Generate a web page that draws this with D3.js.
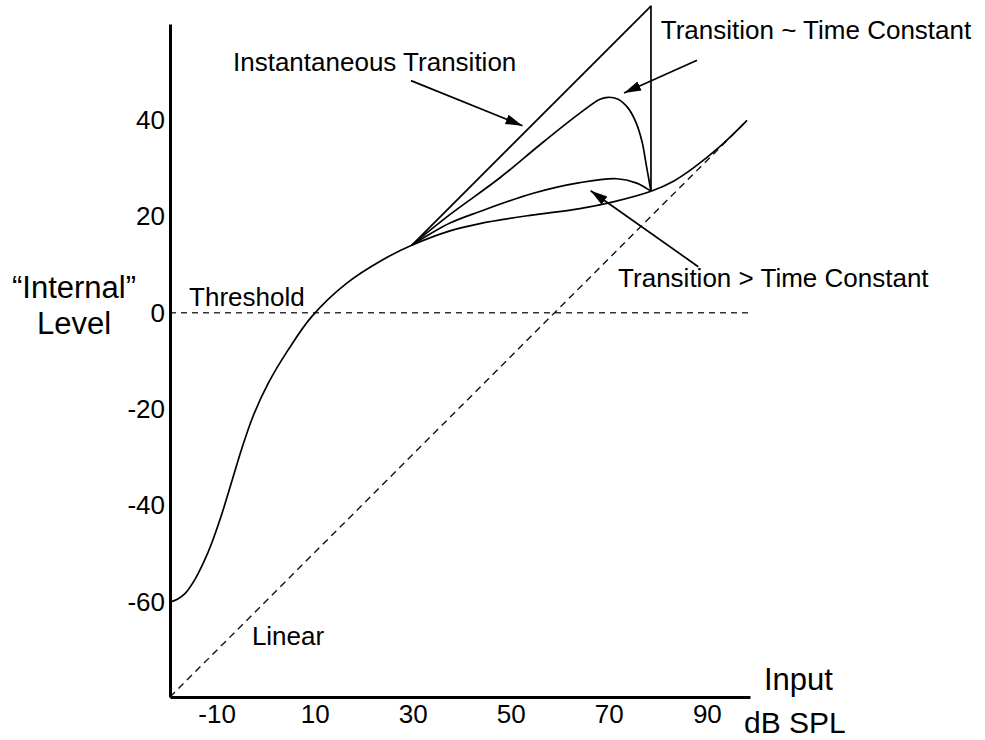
<!DOCTYPE html>
<html>
<head>
<meta charset="utf-8">
<script src="https://cdn.jsdelivr.net/npm/d3@7"></script>
<style>
  body { margin: 0; background: #fff; }
  svg { display: block; font-family: "Liberation Sans", Arial, Helvetica, sans-serif; }
</style>
</head>
<body>
<div id="chart"></div>
<script>
// Input level (dB SPL) vs "internal" level
const baseIn  = [-19.5, -18.0, -16.4, -14.4, -12.7, -11.0, -8.95, -6.9, -4.9, -2.5, 0.55, 4.6, 9.4, 16.5, 23.9, 29.8,
                 37.6, 43.7, 53.9, 64.1, 70.9, 78.6, 83.2, 87.2, 92.7, 98.2];
const baseOut = [-60, -59.4, -58.2, -55.3, -51.9, -47.8, -41.8, -35.0, -28.3, -21.3, -14.6, -7.7, -0.8, 6.1, 11.0, 14.0,
                 17.0, 18.5, 20.2, 21.6, 23.0, 25.2, 27.3, 30.0, 34.5, 39.9];

// Transition ~ time constant
const tcIn  = [29.8, 37.5, 47.8, 55.9, 64.1, 68.2, 69.9, 71.9, 73.9, 75.5, 76.8, 77.7, 78.6];
const tcOut = [14.0, 20.3, 28.0, 34.8, 41.4, 44.3, 44.7, 44.3, 42.5, 39.6, 35.4, 30.3, 25.2];

// Transition > time constant
const gtIn  = [29.8, 37.6, 43.7, 54.6, 64.1, 71.6, 75.7, 77.7, 78.6];
const gtOut = [14.0, 18.6, 21.0, 24.8, 27.0, 27.8, 26.9, 25.8, 25.2];

// Instantaneous transition
const instIn  = [29.8, 78.6, 78.6];
const instOut = [14.0, 63.6, 25.2];

// Linear reference and threshold
const linIn  = [-19.5, 98.2];
const linOut = [-79.7, 39.9];
const thrIn  = [-19.5, 98.8];
const thrOut = [0, 0];

const xTicks = [-10, 10, 30, 50, 70, 90];
const yTicks = [-60, -40, -20, 0, 20, 40];

const W = 985, H = 740;
const x = d3.scaleLinear().domain([-19.5, 98.8]).range([170, 750]);
const y = d3.scaleLinear().domain([-79.7, 59.9]).range([697, 24]);

const svg = d3.select('#chart').append('svg')
  .attr('width', W)
  .attr('height', H);

svg.append('defs').append('marker')
  .attr('id', 'arrow')
  .attr('markerUnits', 'userSpaceOnUse')
  .attr('viewBox', '0 -6 18 12')
  .attr('refX', 17)
  .attr('refY', 0)
  .attr('markerWidth', 18)
  .attr('markerHeight', 12)
  .attr('orient', 'auto')
  .append('path')
  .attr('d', 'M0,-5L17,0L0,5Z')
  .attr('fill', '#000');

const zip = (xs, ys) => xs.map((d, i) => [d, ys[i]]);
const smooth = d3.line().x(d => x(d[0])).y(d => y(d[1])).curve(d3.curveCatmullRom.alpha(0.5));
const straight = d3.line().x(d => x(d[0])).y(d => y(d[1]));

// dashed references
svg.append('path')
  .attr('d', straight(zip(thrIn, thrOut)))
  .attr('fill', 'none').attr('stroke', '#333').attr('stroke-width', 1.4)
  .attr('stroke-dasharray', '6,5');
svg.append('path')
  .attr('d', straight(zip(linIn, linOut)))
  .attr('fill', 'none').attr('stroke', '#111').attr('stroke-width', 1.4)
  .attr('stroke-dasharray', '7,5');

// curves
const curves = [
  { pts: zip(baseIn, baseOut), gen: smooth },
  { pts: zip(tcIn, tcOut), gen: smooth },
  { pts: zip(gtIn, gtOut), gen: smooth },
  { pts: zip(instIn, instOut), gen: straight }
];
svg.selectAll('.curve')
  .data(curves)
  .enter()
  .append('path')
  .attr('class', 'curve')
  .attr('d', d => d.gen(d.pts))
  .attr('fill', 'none')
  .attr('stroke', '#000')
  .attr('stroke-width', 1.7)
  .attr('stroke-linejoin', 'round');

// axes
const fmt = d => String(d);
const xAxis = svg.append('g')
  .attr('transform', `translate(0,${y.range()[0]})`)
  .call(d3.axisBottom(x).tickValues(xTicks).tickFormat(fmt).tickSize(0).tickSizeOuter(0).tickPadding(8));
const yAxis = svg.append('g')
  .attr('transform', `translate(${x.range()[0]},0)`)
  .call(d3.axisLeft(y).tickValues(yTicks).tickFormat(fmt).tickSize(0).tickSizeOuter(0).tickPadding(5));

[xAxis, yAxis].forEach(g => {
  g.attr('font-family', null).attr('font-size', 26);
  g.select('.domain').attr('stroke', '#000').attr('stroke-width', 3);
  g.selectAll('text').attr('fill', '#000');
});

// annotations (data coords)
const labels = [
  { t: 'Instantaneous Transition', u: -6.65, v: 50.2 },
  { t: 'Transition ~ Time Constant', u: 80.6, v: 56.8 },
  { t: 'Transition > Time Constant', u: 71.9, v: 5.3 },
  { t: 'Threshold', u: -15.6, v: 1.4 },
  { t: 'Linear', u: -2.8, v: -68.9 }
];
svg.selectAll('.label')
  .data(labels)
  .enter()
  .append('text')
  .attr('class', 'label')
  .attr('x', d => x(d.u))
  .attr('y', d => y(d.v))
  .attr('font-size', 26)
  .text(d => d.t);

const arrows = [
  { from: [29.65, 48.15], to: [52.4, 38.8] },
  { from: [88.0, 52.4], to: [73.1, 45.6] },
  { from: [88.25, 9.56], to: [66.3, 25.3] }
];
svg.selectAll('.arrow')
  .data(arrows)
  .enter()
  .append('line')
  .attr('class', 'arrow')
  .attr('x1', d => x(d.from[0]))
  .attr('y1', d => y(d.from[1]))
  .attr('x2', d => x(d.to[0]))
  .attr('y2', d => y(d.to[1]))
  .attr('stroke', '#000')
  .attr('stroke-width', 1.7)
  .attr('marker-end', 'url(#arrow)');

// axis titles
const yTitle = svg.append('text')
  .attr('text-anchor', 'middle')
  .attr('font-size', 31);
yTitle.append('tspan').attr('x', 74).attr('y', 298).text('\u201CInternal\u201D');
yTitle.append('tspan').attr('x', 74).attr('y', 334).text('Level');

svg.append('text').attr('x', 764).attr('y', 690).attr('font-size', 31).text('Input');
svg.append('text').attr('x', 744).attr('y', 733).attr('font-size', 30).text('dB SPL');
</script>
</body>
</html>
